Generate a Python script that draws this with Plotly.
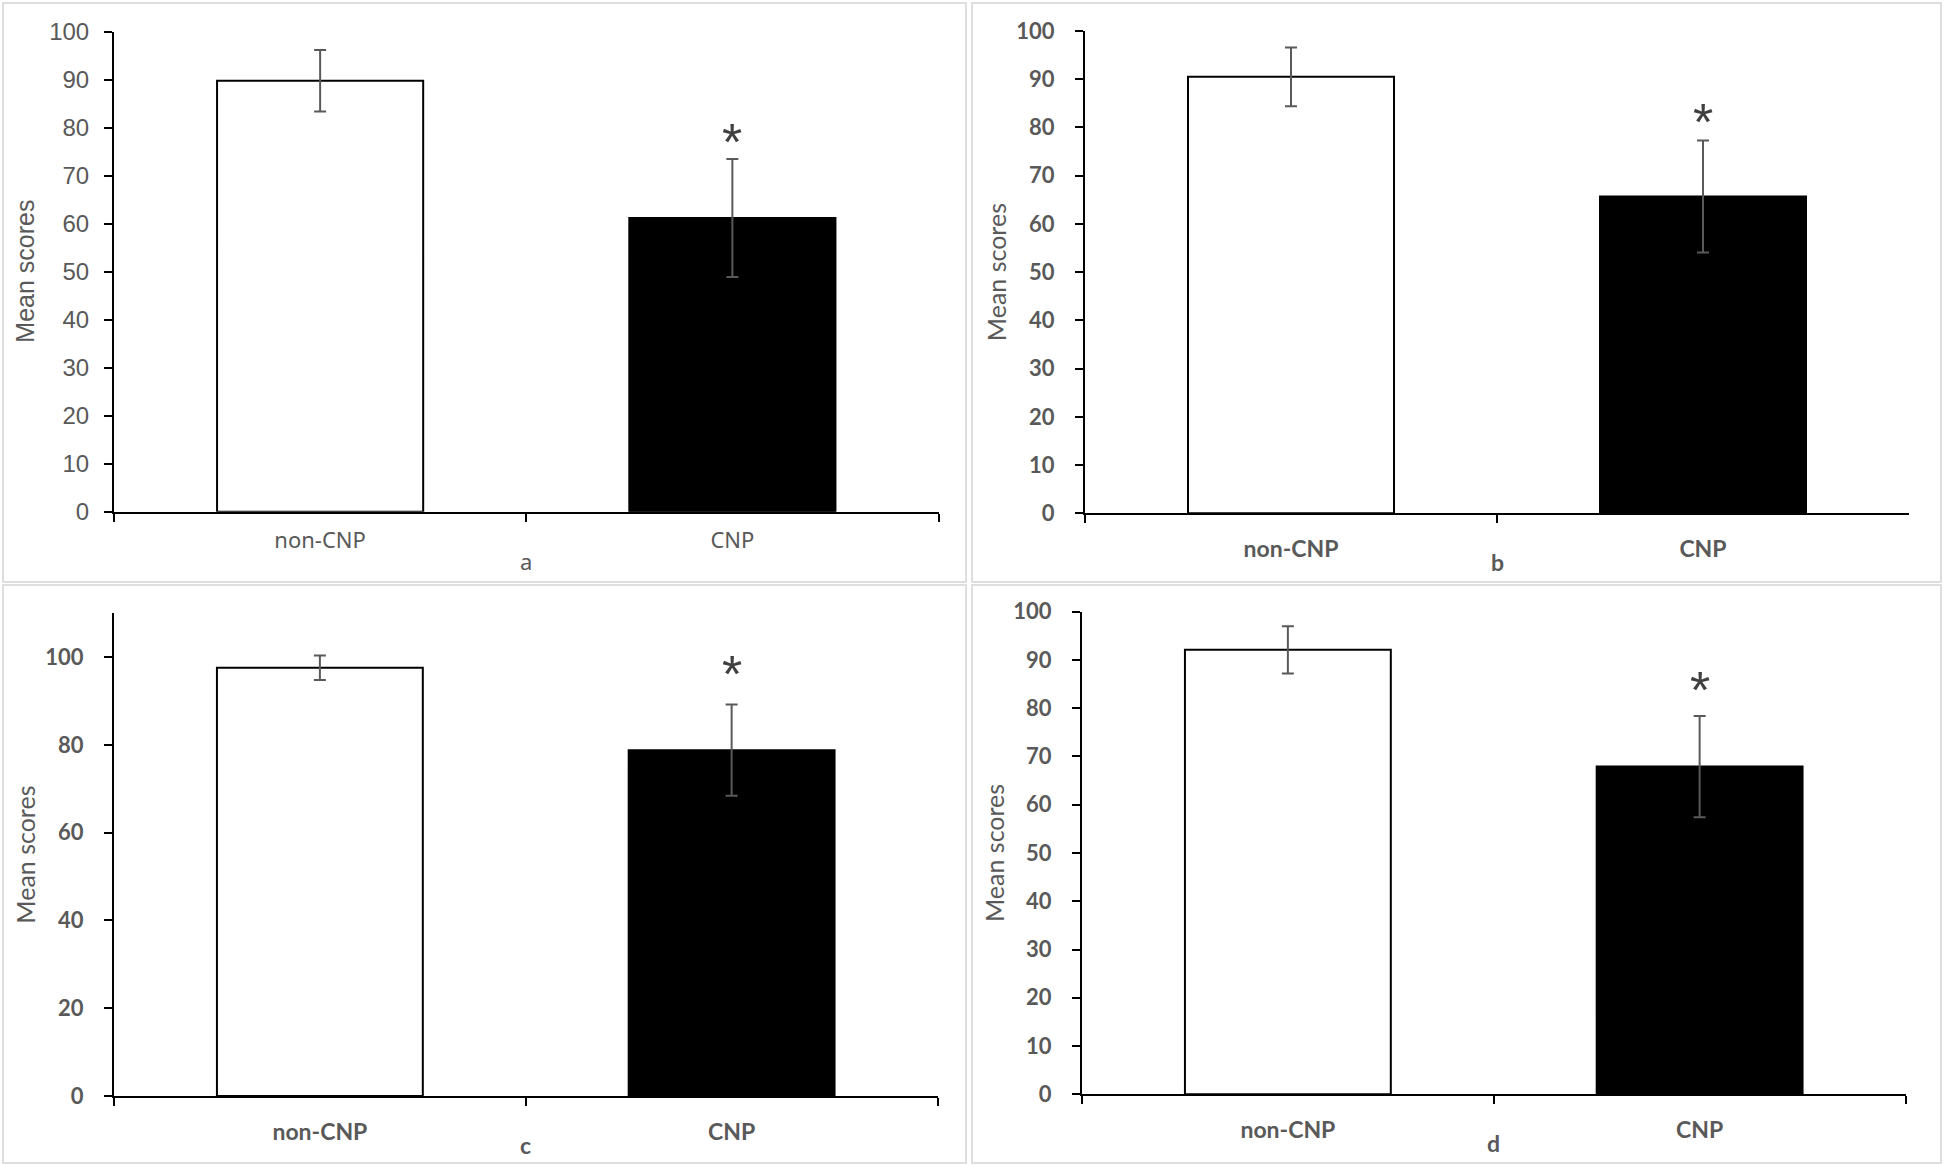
import plotly.graph_objects as go

# Data (mean score and error bar half-length)
groups = ["non-CNP", "CNP"]
means_a = [89.8, 61.2]
sd_a = [6.4, 12.3]
means_b = [90.5, 65.7]
sd_b = [6.1, 11.6]
means_c = [97.6, 78.8]
sd_c = [2.8, 10.4]
means_d = [92.1, 67.9]
sd_d = [4.9, 10.5]
panel_letters = ["a", "b", "c", "d"]

W, H = 1944, 1165
grey = "#595959"

# pixel layout of each panel: axis left/right, y-axis top/bottom, where the y title sits
panels = [
    dict(means=means_a, sd=sd_a, x0=114, x1=938.5, ytop=31.7, ybot=511.7, ymax=100, dtick=10, title_x=25,
         tfont="Liberation Sans", tsize=24, cfont="Noto Sans", csize=22, weight="normal",
         cat_pad=8, star=17, std=10),
    dict(means=means_b, sd=sd_b, x0=1085, x1=1909, ytop=31, ybot=513.3, ymax=100, dtick=10, title_x=996,
         tfont="Lato", tsize=22, cfont="Lato", csize=23, weight="bold", cat_pad=14, star=18, std=16),
    dict(means=means_c, sd=sd_c, x0=114, x1=937.5, ytop=613.3, ybot=1096, ymax=110, dtick=20, title_x=25,
         tfont="Lato", tsize=22, cfont="Lato", csize=23, weight="bold", cat_pad=14, star=31, std=16),
    dict(means=means_d, sd=sd_d, x0=1082, x1=1905.5, ytop=611.7, ybot=1094.3, ymax=100, dtick=10, title_x=994,
         tfont="Lato", tsize=22, cfont="Lato", csize=23, weight="bold", cat_pad=14, star=26, std=16),
]

fig = go.Figure()
annotations = []

for i, p in enumerate(panels):
    n = "" if i == 0 else str(i + 1)
    xa, ya = "x" + n, "y" + n
    fig.add_trace(go.Bar(
        x=groups, y=p["means"], xaxis=xa, yaxis=ya,
        marker=dict(color=["white", "black"], line=dict(color="black", width=2)),
        error_y=dict(type="data", array=p["sd"], color=grey, thickness=2, width=6),
        showlegend=False,
    ))
    fig.update_layout(**{
        "xaxis" + n: dict(
            domain=[p["x0"] / W, p["x1"] / W], anchor=ya, type="category", range=[-0.5, 1.5],
            showline=True, linecolor="black", linewidth=2, ticks="outside", tickson="boundaries",
            ticklen=8, tickwidth=2, tickcolor="black", showgrid=False, zeroline=False,
            ticklabelstandoff=p["cat_pad"], automargin=False,
            tickfont=dict(family=p["cfont"], size=p["csize"], color=grey, weight=p["weight"]),
        ),
        "yaxis" + n: dict(
            domain=[1 - p["ybot"] / H, 1 - p["ytop"] / H], anchor=xa, range=[0, p["ymax"]],
            dtick=p["dtick"], showline=True, linecolor="black", linewidth=2, ticks="outside",
            ticklen=8, tickwidth=2, tickcolor="black", showgrid=False, zeroline=False,
            ticklabelstandoff=p["std"], automargin=False,
            tickfont=dict(family=p["tfont"], size=p["tsize"], color=grey, weight=p["weight"]),
        ),
    })
    # y axis title
    annotations.append(dict(
        text="Mean scores", xref="paper", yref=ya + " domain", x=p["title_x"] / W, y=0.5,
        xanchor="center", textangle=-90, showarrow=False,
        font=dict(family=p["tfont"], size=25, color=grey),
    ))
    # panel letter under the middle tick
    annotations.append(dict(
        text=panel_letters[i], xref=xa, yref=ya + " domain", x=0.5, y=0, yanchor="middle",
        yshift=-49, showarrow=False,
        font=dict(family=p["cfont"], size=p["csize"], color=grey, weight=p["weight"]),
    ))
    # significance star above the CNP error bar
    annotations.append(dict(
        text="*", xref=xa, yref=ya, x="CNP", y=p["means"][1] + p["sd"][1],
        yshift=p["star"], showarrow=False, font=dict(family="Liberation Sans", size=52, color="#404040"),
    ))

# light grey frames around the four pasted panels
frames = [(3, 3, 966, 582), (972, 3, 1941, 582), (3, 585, 966, 1163), (972, 585, 1941, 1163)]
shapes = [dict(type="rect", xref="paper", yref="paper", x0=a / W, x1=c / W, y0=1 - d / H, y1=1 - b / H,
               line=dict(color="#dedede", width=2), layer="below") for a, b, c, d in frames]

fig.update_layout(
    width=W, height=H, margin=dict(l=0, r=0, t=0, b=0, autoexpand=False),
    paper_bgcolor="white", plot_bgcolor="white", bargap=0.5,
    annotations=annotations, shapes=shapes,
)

fig.write_html("out.html", config={"displayModeBar": False},
               post_script="document.body.style.margin='0';")
